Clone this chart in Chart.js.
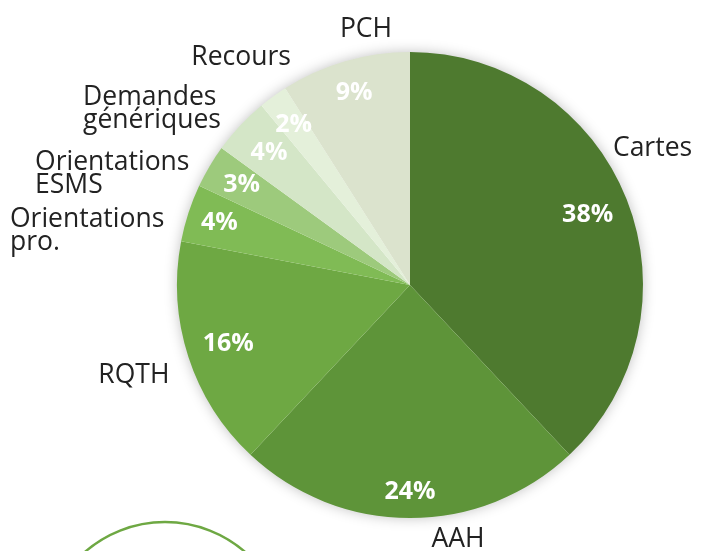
<!DOCTYPE html>
<html>
<head>
<meta charset="utf-8">
<script src="https://cdn.jsdelivr.net/npm/chart.js@4.4.1/dist/chart.umd.min.js"></script>
<style>
  html, body { margin: 0; padding: 0; background: #fff; }
  #wrap { width: 702px; height: 551px; position: relative; overflow: hidden; }
</style>
</head>
<body>
<div id="wrap"><canvas id="pie" width="702" height="551"></canvas></div>
<script>
// categories, clockwise from 12 o'clock
const categories = [
  'Cartes', 'AAH', 'RQTH', ['Orientations', 'pro.'], ['Orientations', 'ESMS'],
  ['Demandes', 'génériques'], 'Recours', 'PCH'
];
const shares = [38, 24, 16, 4, 3, 4, 2, 9];
const sliceColors = ['#4e7a2f', '#5e9439', '#6ea843', '#80bb55', '#9dca7c', '#d4e6c7', '#e4f0da', '#dbe3cd'];

// where the outer labels sit, in units of the radius from the centre
const outerLabelPos = [
  { x: 0.871, y: -0.554, align: 'left' },
  { x: 0.206, y: 1.124, align: 'center' },
  { x: -1.185, y: 0.421, align: 'center' },
  { x: -1.717, y: -0.249, align: 'left' },
  { x: -1.609, y: -0.494, align: 'left' },
  { x: -1.403, y: -0.773, align: 'left' },
  { x: -0.725, y: -0.944, align: 'center' },
  { x: -0.189, y: -1.064, align: 'center' }
];
const pctRadius = [0.82, 0.89, 0.82, 0.86, 0.84, 0.83, 0.85, 0.86];

const pieShadow = {
  id: 'pieShadow',
  beforeDatasetsDraw(chart) {
    const arc = chart.getDatasetMeta(0).data[0];
    if (!arc) return;
    const ctx = chart.ctx;
    ctx.save();
    ctx.shadowColor = 'rgba(0,0,0,0.28)';
    ctx.shadowBlur = 14;
    ctx.fillStyle = '#fff';
    ctx.beginPath();
    ctx.arc(arc.x, arc.y, arc.outerRadius - 1, 0, Math.PI * 2);
    ctx.fill();
    ctx.restore();
  }
};

const sliceLabels = {
  id: 'sliceLabels',
  afterDatasetsDraw(chart) {
    const ctx = chart.ctx;
    const arcs = chart.getDatasetMeta(0).data;
    ctx.save();
    arcs.forEach((arc, i) => {
      const mid = (arc.startAngle + arc.endAngle) / 2;
      const r = arc.outerRadius;
      // percentage inside the slice
      ctx.fillStyle = '#ffffff';
      ctx.font = 'bold 25px "Open Sans"';
      ctx.textAlign = 'center';
      ctx.textBaseline = 'middle';
      ctx.fillText(shares[i] + '%', arc.x + Math.cos(mid) * r * pctRadius[i], arc.y + Math.sin(mid) * r * pctRadius[i]);

      // category name outside
      const pos = outerLabelPos[i];
      const lines = Array.isArray(categories[i]) ? categories[i] : [categories[i]];
      ctx.fillStyle = '#222222';
      ctx.font = '26.5px "Open Sans"';
      ctx.textAlign = pos.align;
      ctx.textBaseline = 'alphabetic';
      lines.forEach((line, k) => {
        ctx.fillText(line, arc.x + pos.x * r, arc.y + pos.y * r + k * 23);
      });
    });
    ctx.restore();
  }
};

// decorative ring peeking in at the bottom left
const ring = {
  id: 'ring',
  afterDraw(chart) {
    const ctx = chart.ctx;
    ctx.save();
    ctx.strokeStyle = '#6ea843';
    ctx.lineWidth = 2.5;
    ctx.beginPath();
    ctx.arc(165, 644, 122, 0, Math.PI * 2);
    ctx.stroke();
    ctx.restore();
  }
};

document.fonts.load('26.5px "Open Sans"').then(() => document.fonts.load('bold 25px "Open Sans"')).finally(() => {
  new Chart(document.getElementById('pie'), {
    type: 'pie',
    data: {
      labels: categories.map(c => Array.isArray(c) ? c.join(' ') : c),
      datasets: [{
        data: shares,
        backgroundColor: sliceColors,
        borderWidth: 0
      }]
    },
    options: {
      responsive: false,
      animation: false,
      layout: { padding: { left: 177, right: 59, top: 52, bottom: 33 } },
      plugins: {
        legend: { display: false },
        tooltip: { enabled: false }
      }
    },
    plugins: [pieShadow, sliceLabels, ring]
  });
});
</script>
</body>
</html>
